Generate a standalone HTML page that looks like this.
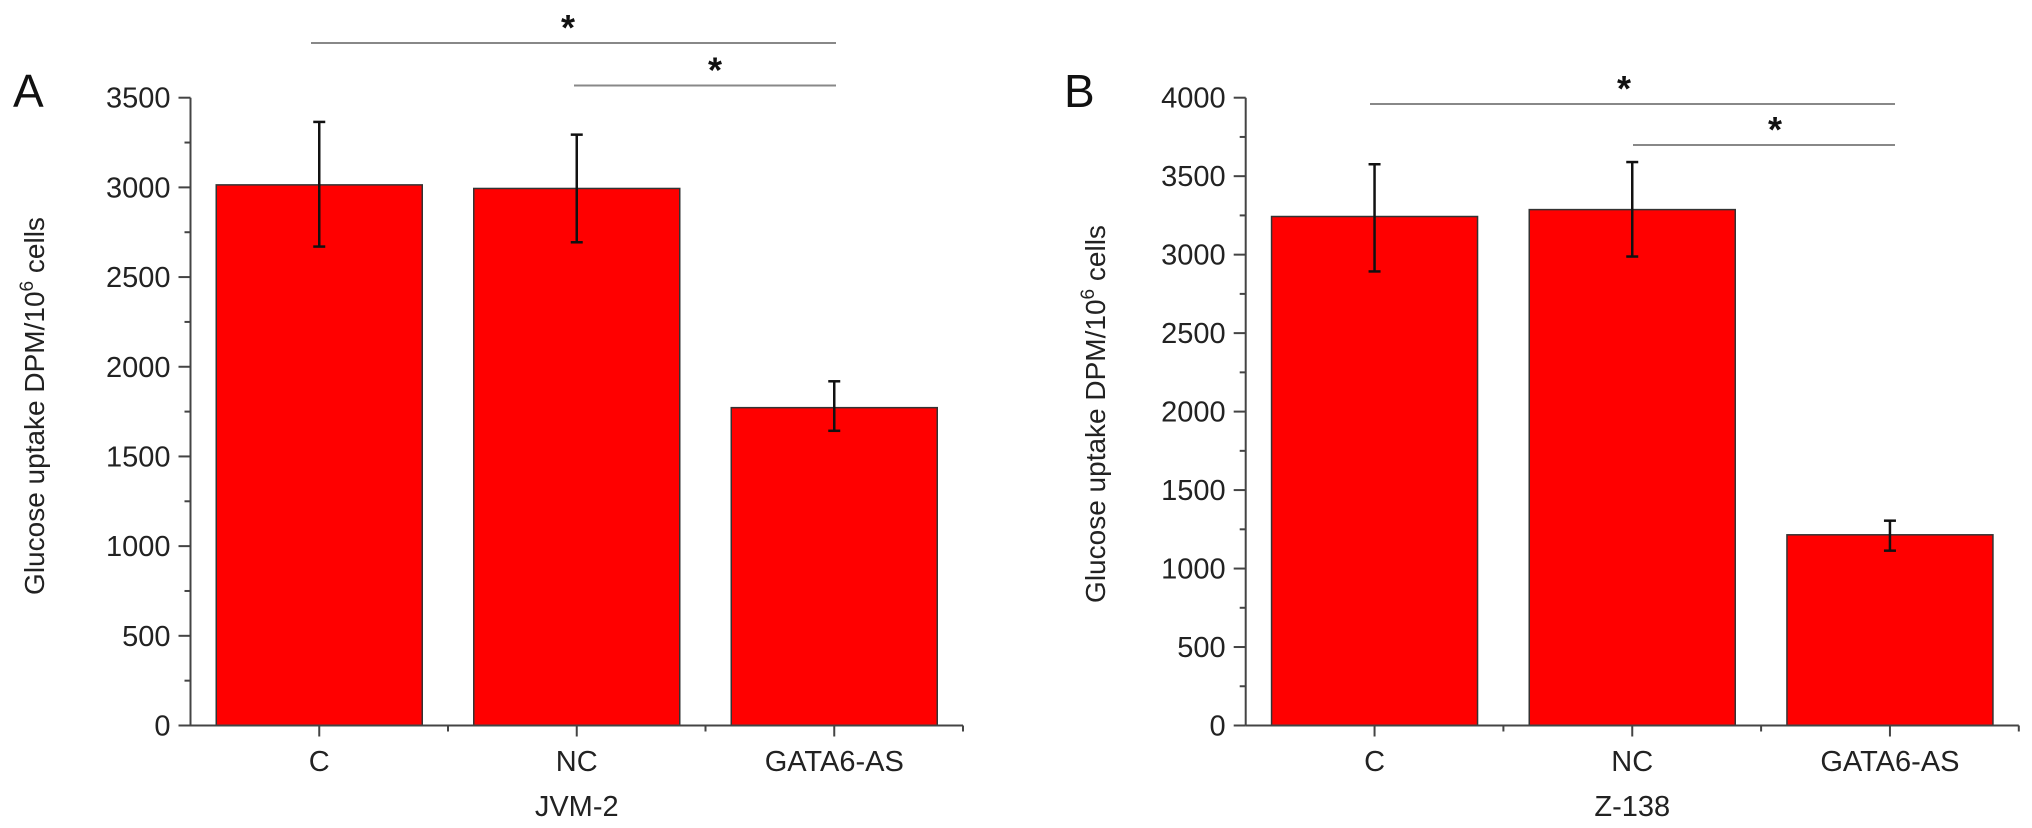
<!DOCTYPE html>
<html><head><meta charset="utf-8"><style>
html,body{margin:0;padding:0;background:#fff;}
svg{display:block;font-family:"Liberation Sans",sans-serif;}
</style></head><body>
<svg id="chart" width="2032" height="828" viewBox="0 0 2032 828" xmlns="http://www.w3.org/2000/svg"></svg>
<script>
const categories = ["C", "NC", "GATA6-AS"];
const valuesA = [3014, 2994, 1772];
const errHiA = [3365, 3294, 1919];
const errLoA = [2670, 2694, 1643];
const valuesB = [3243, 3287, 1215];
const errHiB = [3576, 3590, 1305];
const errLoB = [2893, 2988, 1114];
const ticksA = [0, 500, 1000, 1500, 2000, 2500, 3000, 3500];
const ticksB = [0, 500, 1000, 1500, 2000, 2500, 3000, 3500, 4000];

const NS = "http://www.w3.org/2000/svg";
const svg = document.getElementById("chart");
function mk(tag, attrs, parent) {
  const e = document.createElementNS(NS, tag);
  for (const k in attrs) e.setAttribute(k, attrs[k]);
  (parent || svg).appendChild(e);
  return e;
}

function panel(cfg) {
  const g = mk("g", {});
  
  
  const y0 = 725.5, yTop = 97.7;
  const ys = v => y0 - (v / cfg.max) * (y0 - yTop);
  const step = cfg.step;
  const xs = i => cfg.x0 + (i + 0.5) * step;
  const bw = 206;
  categories.forEach((c, i) => {
    const b = mk("rect", {x: xs(i) - bw / 2, y: ys(cfg.vals[i]), width: bw, height: y0 - ys(cfg.vals[i]), fill: "#ff0000", stroke: "#333", "stroke-width": 1.5}, g);
    
    
    const eb = mk("g", {stroke: "#111", "stroke-width": 2.5}, g);
    
    
    const cx = xs(i);
    mk("line", {x1: cx, x2: cx, y1: ys(cfg.hi[i]), y2: ys(cfg.lo[i])}, eb);
    mk("line", {x1: cx - 6, x2: cx + 6, y1: ys(cfg.hi[i]), y2: ys(cfg.hi[i])}, eb);
    mk("line", {x1: cx - 6, x2: cx + 6, y1: ys(cfg.lo[i]), y2: ys(cfg.lo[i])}, eb);
    const t = mk("text", {x: cx, y: 771, "text-anchor": "middle", "font-size": 29, fill: "#222"}, g);
    t.textContent = c;
    
    
    mk("line", {x1: cx, x2: cx, y1: y0, y2: y0 + 11, stroke: "#444", "stroke-width": 2}, g);
    if (i > 0) mk("line", {x1: cx - step / 2, x2: cx - step / 2, y1: y0, y2: y0 + 6, stroke: "#444", "stroke-width": 2}, g);
  });
  const ax = mk("line", {x1: cfg.x0, x2: cfg.x0, y1: yTop, y2: y0, stroke: "#444", "stroke-width": 2}, g);
  
  
  const xa = mk("line", {x1: cfg.x0, x2: cfg.x0 + 3 * step, y1: y0, y2: y0, stroke: "#444", "stroke-width": 2}, g);
  
  
  mk("line", {x1: cfg.x0 + 3 * step, x2: cfg.x0 + 3 * step, y1: y0, y2: y0 + 6, stroke: "#444", "stroke-width": 2}, g);
  cfg.ticks.forEach((v, j) => {
    mk("line", {x1: cfg.x0 - 12, x2: cfg.x0, y1: ys(v), y2: ys(v), stroke: "#444", "stroke-width": 2}, g);
    if (j < cfg.ticks.length - 1) {
      const m = v + 250;
      mk("line", {x1: cfg.x0 - 6, x2: cfg.x0, y1: ys(m), y2: ys(m), stroke: "#444", "stroke-width": 2}, g);
    }
    const t = mk("text", {x: cfg.x0 - 20, y: ys(v) + 10, "text-anchor": "end", "font-size": 29, fill: "#222"}, g);
    t.textContent = v;
    
    
  });
  const gl = mk("text", {x: xs(1), y: 816, "text-anchor": "middle", "font-size": 29, fill: "#222"}, g);
  gl.textContent = cfg.group;
  
  
  const yt = mk("text", {x: 0, y: 0, "text-anchor": "middle", "font-size": 28, fill: "#222", transform: `translate(${cfg.titleX},${cfg.titleY}) rotate(-90)`}, g);
  
  
  yt.appendChild(document.createTextNode("Glucose uptake DPM/10"));
  const sup = mk("tspan", {"font-size": 19, dy: -11}, yt);
  sup.textContent = "6";
  const rest = mk("tspan", {dy: 11}, yt);
  rest.textContent = " cells";
  const pl = mk("text", {x: cfg.letterX, y: 107, "font-size": 46, fill: "#111"}, g);
  pl.textContent = cfg.letter;
  
  
  cfg.sig.forEach((s, k) => {
    const l = mk("line", {x1: s.x1, x2: s.x2, y1: s.y, y2: s.y, stroke: "#888", "stroke-width": 2}, g);
    
    
    const st = mk("text", {x: s.sx, y: s.y - 3, "text-anchor": "middle", "font-size": 36, "font-weight": "bold", fill: "#111"}, g);
    st.textContent = "*";
    
    
  });
}

panel({id: "a", letter: "A", letterX: 13, x0: 190.5, step: 257.5, max: 3500, vals: valuesA, hi: errHiA, lo: errLoA, ticks: ticksA, group: "JVM-2", titleX: 44, titleY: 406,
  sig: [{x1: 311, x2: 836, y: 43, sx: 568}, {x1: 574, x2: 836, y: 85.5, sx: 715}]});
panel({id: "b", letter: "B", letterX: 1064, x0: 1245.7, step: 257.7, max: 4000, vals: valuesB, hi: errHiB, lo: errLoB, ticks: ticksB, group: "Z-138", titleX: 1105, titleY: 414,
  sig: [{x1: 1370, x2: 1895, y: 104, sx: 1624}, {x1: 1633, x2: 1895, y: 145, sx: 1775}]});
</script>
</body></html>
